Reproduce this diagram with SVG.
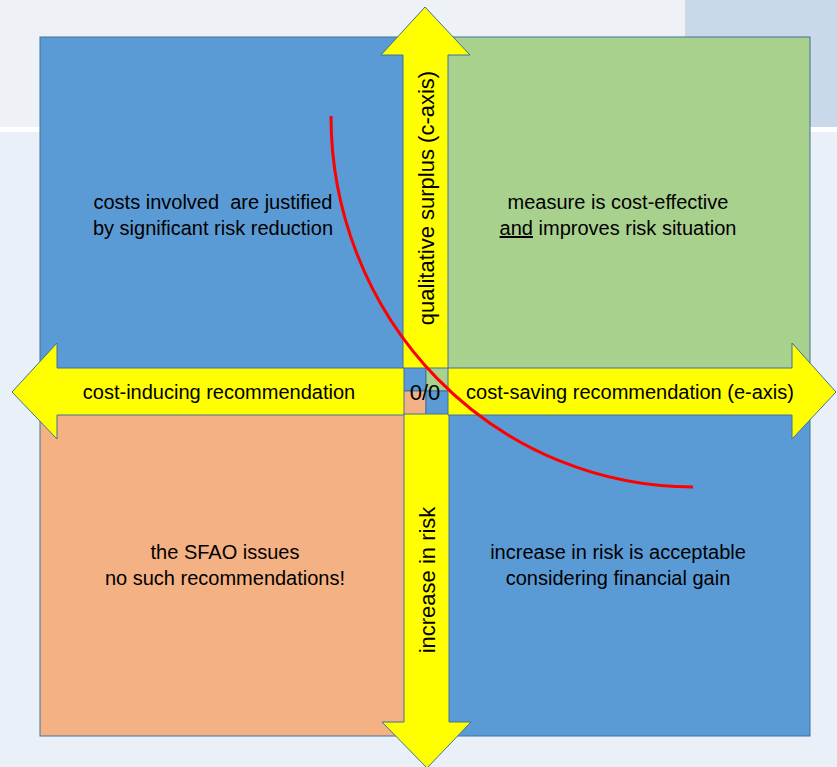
<svg xmlns="http://www.w3.org/2000/svg" width="837" height="767" viewBox="0 0 837 767">
<style>
.q{stroke:#41719c;stroke-width:1}
.arr{fill:#ffff00;stroke:#41719c;stroke-width:1;stroke-linejoin:miter}
.t{font-family:"Liberation Sans",Arial,sans-serif;font-size:20px;fill:#000;text-anchor:middle;white-space:pre}
.v{font-size:22px}
</style>
<rect x="0" y="0" width="837" height="767" fill="#eaf0f7"/>
<rect x="0" y="0" width="837" height="127" fill="#eef2f7"/>
<rect x="685" y="0" width="152" height="127" fill="#c9d9ea"/>
<rect x="0" y="127" width="837" height="5" fill="#ffffff"/>
<g id="q-tl"><rect class="q" x="40" y="37" width="386" height="354" fill="#5b9bd5"/>
<text class="t" x="213" y="209">costs involved  are justified</text>
<text class="t" x="213" y="235">by significant risk reduction</text></g>
<g id="q-tr"><rect class="q" x="426" y="37" width="384" height="354" fill="#a9d18e"/>
<text class="t" x="618" y="209">measure is cost-effective</text>
<text class="t" x="618" y="235"><tspan text-decoration="underline">and</tspan> improves risk situation</text></g>
<g id="q-bl"><rect class="q" x="40" y="391" width="386" height="345" fill="#f4b183"/>
<text class="t" x="225" y="559">the SFAO issues</text>
<text class="t" x="225" y="585">no such recommendations!</text></g>
<g id="q-br"><rect class="q" x="426" y="391" width="384" height="345" fill="#5b9bd5"/>
<text class="t" x="618" y="559">increase in risk is acceptable</text>
<text class="t" x="618" y="585">considering financial gain</text></g>
<g id="connectors">
<path class="arr" d="M403,368 L403,55 L381,55 L425,7 L470,55 L448,55 L448,368 Z"/>
<path class="arr" d="M404,414 L404,722 L382,722 L427,768 L471,722 L449,722 L449,414 Z"/>
<path class="arr" d="M404,368 L57,368 L57,343 L12,392 L57,439 L57,415 L404,415 Z"/>
<path class="arr" d="M448,368 L792,368 L792,343 L836,392 L792,439 L792,415 L448,415 Z"/>
<path d="M331,116 A362,371 0 0 0 693,487" fill="none" stroke="#ff0000" stroke-width="3"/>
</g>
<g id="labels">
<text class="t" x="219" y="399">cost-inducing recommendation</text>
<text class="t" x="630" y="399">cost-saving recommendation (e-axis)</text>
<text class="t v" x="425" y="400">0/0</text>
<text class="t v" transform="translate(434,198) rotate(-90)">qualitative surplus (c-axis)</text>
<text class="t v" transform="translate(435,580) rotate(-90)">increase in risk</text>
</g>
</svg>
